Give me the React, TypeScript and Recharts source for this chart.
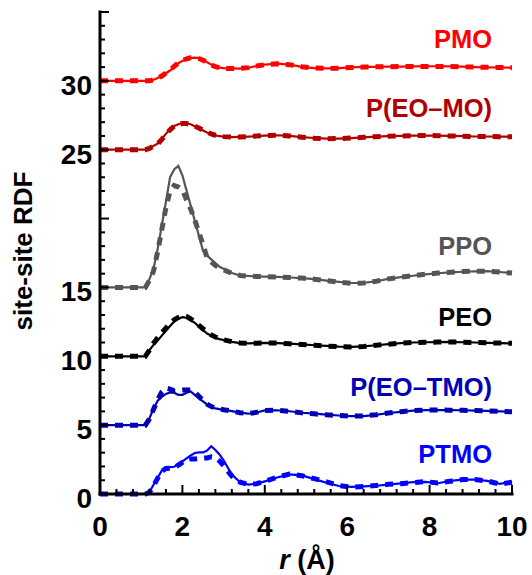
import { LineChart, Line, XAxis, YAxis } from 'recharts'

const FONT = '"Liberation Sans", Arial, Helvetica, sans-serif'

// r grid in Å, shared by all curves
const R = [
  0, 0.5, 1.0, 1.1,
  1.2, 1.3, 1.4, 1.5, 1.6, 1.7, 1.8, 1.9, 2.0, 2.1, 2.2, 2.3, 2.4, 2.5, 2.6, 2.7, 2.8, 2.9, 3.0,
  3.2, 3.4, 3.6, 3.8, 4.0, 4.3, 4.6, 4.9, 5.2, 5.5, 5.8, 6.1, 6.4, 6.7, 7.0, 7.3, 7.6, 7.9, 8.2, 8.5, 8.8, 9.1, 9.4, 9.7, 10.0,
]

// g(r) values, solid = atomistic, dashed = coarse-grained
const PMO_AA = [
  0, 0, 0, 0,
  0.0, 0.08, 0.2, 0.35, 0.55, 0.75, 1.0, 1.28, 1.45, 1.58, 1.66, 1.69, 1.65, 1.52, 1.35, 1.18, 1.04, 0.96, 0.92,
  0.9, 0.89, 0.95, 1.08, 1.18, 1.25, 1.18, 1.02, 0.92, 0.9, 0.93, 0.98, 1.01, 1.02, 1.03, 1.04, 1.05, 1.06, 1.06, 1.05, 1.03, 1.0, 0.98, 0.97, 0.96,
]
const PMO_CG = [
  0, 0, 0, 0,
  0.0, 0.07, 0.18, 0.35, 0.57, 0.8, 1.05, 1.3, 1.47, 1.6, 1.67, 1.68, 1.62, 1.5, 1.33, 1.16, 1.03, 0.95, 0.91,
  0.89, 0.9, 0.96, 1.08, 1.17, 1.24, 1.17, 1.03, 0.93, 0.9, 0.92, 0.97, 1.0, 1.02, 1.03, 1.04, 1.05, 1.05, 1.05, 1.04, 1.02, 1.0, 0.98, 0.97, 0.96,
]

const PEOMO_AA = [
  0, 0, 0, 0,
  0.12, 0.28, 0.45, 0.8, 1.15, 1.5, 1.72, 1.85, 1.92, 1.92, 1.85, 1.7, 1.55, 1.4, 1.25, 1.12, 1.04, 0.98, 0.95,
  0.92, 0.93, 0.95, 0.98, 1.02, 1.05, 1.0, 0.92, 0.85, 0.8, 0.8, 0.84, 0.9, 0.95, 0.98, 1.0, 1.02, 1.03, 1.02, 1.0, 0.98, 0.96, 0.96, 0.95, 0.95,
]
const PEOMO_CG = [
  0, 0, 0, 0,
  0.1, 0.25, 0.42, 0.75, 1.1, 1.45, 1.7, 1.84, 1.9, 1.9, 1.84, 1.72, 1.58, 1.42, 1.27, 1.14, 1.05, 0.99, 0.95,
  0.92, 0.92, 0.95, 0.99, 1.03, 1.05, 1.0, 0.91, 0.84, 0.8, 0.81, 0.85, 0.9, 0.95, 0.98, 1.0, 1.02, 1.03, 1.02, 1.0, 0.98, 0.96, 0.96, 0.95, 0.95,
]

const PPO_AA = [
  0, 0, 0, 0,
  0.6, 1.37, 2.8, 4.5, 6.2, 8.0, 8.57, 8.83, 8.14, 7.05, 5.95, 4.86, 3.77, 2.67, 2.31, 2.04, 1.77, 1.5, 1.35,
  1.05, 0.87, 0.83, 0.8, 0.79, 0.76, 0.72, 0.68, 0.6, 0.5, 0.4, 0.32, 0.33, 0.45, 0.62, 0.75, 0.85, 0.95, 1.03, 1.1, 1.14, 1.17, 1.18, 1.12, 1.04,
]
const PPO_CG = [
  0, 0, 0, 0,
  0.5, 1.2, 2.6, 4.2, 5.8, 7.0, 7.4, 7.3, 7.1, 6.35, 5.7, 4.9, 4.0, 3.1, 2.15, 1.85, 1.6, 1.42, 1.28,
  1.03, 0.87, 0.82, 0.8, 0.78, 0.76, 0.72, 0.68, 0.6, 0.5, 0.38, 0.3, 0.32, 0.45, 0.62, 0.75, 0.86, 0.96, 1.04, 1.1, 1.15, 1.18, 1.18, 1.12, 1.04,
]

const PEO_AA = [
  0, 0, 0, 0,
  0.45, 0.83, 1.15, 1.5, 1.85, 2.2, 2.52, 2.72, 2.84, 2.8, 2.62, 2.43, 2.15, 1.9, 1.65, 1.5, 1.35, 1.25, 1.18,
  1.05, 0.96, 0.94, 0.95, 0.97, 0.96, 0.92, 0.86, 0.8, 0.75, 0.7, 0.68, 0.72, 0.8, 0.88, 0.95, 1.0, 1.02, 1.03, 1.04, 1.02, 1.0, 0.98, 0.96, 0.94,
]
const PEO_CG = [
  0, 0, 0, 0,
  0.45, 0.95, 1.35, 1.7, 2.05, 2.4, 2.65, 2.82, 2.93, 2.9, 2.72, 2.5, 2.25, 2.0, 1.75, 1.55, 1.4, 1.3, 1.2,
  1.06, 0.97, 0.94, 0.95, 0.97, 0.96, 0.91, 0.85, 0.8, 0.74, 0.7, 0.67, 0.71, 0.8, 0.88, 0.95, 1.0, 1.02, 1.03, 1.04, 1.02, 1.0, 0.98, 0.96, 0.94,
]

const PEOTMO_AA = [
  0, 0, 0, 0,
  0.5, 1.2, 1.78, 2.05, 2.27, 2.38, 2.35, 2.2, 2.2, 2.35, 2.45, 2.2, 1.95, 1.72, 1.5, 1.32, 1.22, 1.16, 1.12,
  1.02, 0.9, 0.83, 0.92, 1.07, 1.08, 1.01, 0.9, 0.83, 0.76, 0.7, 0.66, 0.66, 0.75, 0.88, 0.97, 1.05, 1.09, 1.09, 1.09, 1.08, 1.06, 1.03, 1.0, 0.97,
]
const PEOTMO_CG = [
  0, 0, 0, 0,
  0.45, 1.15, 1.85, 2.4, 2.7, 2.62, 2.5, 2.52, 2.55, 2.55, 2.55, 2.4, 2.1, 1.8, 1.52, 1.35, 1.25, 1.18, 1.12,
  1.02, 0.9, 0.84, 0.93, 1.07, 1.08, 1.0, 0.89, 0.82, 0.75, 0.7, 0.65, 0.67, 0.76, 0.88, 0.98, 1.05, 1.09, 1.1, 1.09, 1.08, 1.06, 1.03, 1.0, 0.97,
]

const PTMO_AA = [
  0, 0, 0, 0,
  0.15, 0.67, 1.18, 1.7, 1.93, 1.95, 1.98, 2.15, 2.37, 2.58, 2.8, 2.98, 3.02, 3.02, 3.15, 3.47, 3.2, 2.87, 2.45,
  1.42, 0.85, 0.68, 0.75, 0.92, 1.2, 1.42, 1.35, 1.08, 0.82, 0.58, 0.52, 0.55, 0.6, 0.68, 0.77, 0.86, 0.88, 0.78, 0.95, 1.05, 1.05, 0.95, 0.74, 0.88,
]
const PTMO_CG = [
  0, 0, 0, 0,
  0.12, 0.6, 1.15, 1.65, 1.85, 1.88, 1.9, 2.1, 2.3, 2.5, 2.55, 2.55, 2.58, 2.6, 2.62, 2.7, 2.65, 2.4, 2.05,
  1.3, 0.85, 0.7, 0.75, 0.92, 1.22, 1.45, 1.32, 1.12, 0.88, 0.62, 0.5, 0.55, 0.62, 0.7, 0.75, 0.82, 0.9, 0.8, 0.92, 1.05, 1.05, 0.95, 0.72, 0.85,
]

const NAMES = ['PMO', 'P(EO–MO)', 'PPO', 'PEO', 'P(EO–TMO)', 'PTMO']
const KEYS = ['pmo', 'peomo', 'ppo', 'peo', 'peotmo', 'ptmo']
const OFFSETS = [30, 25, 15, 10, 5, 0]
const COLORS = ['#ff0000', '#b00000', '#555555', '#000000', '#0000b4', '#0000ff']
const SOLID = [PMO_AA, PEOMO_AA, PPO_AA, PEO_AA, PEOTMO_AA, PTMO_AA]
const DASHED = [PMO_CG, PEOMO_CG, PPO_CG, PEO_CG, PEOTMO_CG, PTMO_CG]
// baseline of each curve name, in chart pixels
const NAME_Y = [48, 117, 255, 326, 396, 463]

const X_TICKS = [0, 0.4, 0.8, 1.2, 1.6, 2, 2.4, 2.8, 3.2, 3.6, 4, 4.4, 4.8, 5.2, 5.6, 6, 6.4, 6.8, 7.2, 7.6, 8, 8.4, 8.8, 9.2, 9.6, 10]
const X_LABELS = [0, 2, 4, 6, 8, 10]
const Y_TICKS = [
  0, 1, 2, 3, 4, 5, 6, 7, 8, 9, 10, 11, 12, 13, 14, 15, 16, 17,
  18, 19, 20, 21, 22, 23, 24, 25, 26, 27, 28, 29, 30, 31, 32, 33, 34, 35,
]
const Y_LABELS = [0, 5, 10, 15, 25, 30]

const data = R.map((r, i) => {
  const row: Record<string, number> = { r }
  KEYS.forEach((k, s) => {
    row[k + 'Aa'] = SOLID[s][i] + OFFSETS[s]
    row[k + 'Cg'] = DASHED[s][i] + OFFSETS[s]
  })
  return row
})

const isMajorX = (v: number) => X_LABELS.some((m) => Math.abs(m - v) < 1e-6)
const isMajorY = (v: number) => v % 5 === 0

const labelStyle = { fontFamily: FONT, fontWeight: 700, fontSize: 28, fill: '#000' }

function BottomTick({ x, y, payload }: any) {
  const v = payload.value
  const major = isMajorX(v)
  return (
    <g>
      <line x1={x} x2={x} y1={y} y2={y - (major ? 9 : 5)} stroke="#000" strokeWidth={2} />
      {major && (
        <text x={x} y={y + 42} textAnchor="middle" style={labelStyle}>
          {v}
        </text>
      )}
    </g>
  )
}

function TopTick({ x, y, payload }: any) {
  const major = isMajorX(payload.value)
  return <line x1={x} x2={x} y1={y} y2={y + (major ? 9 : 5)} stroke="#000" strokeWidth={2} />
}

function LeftTick({ x, y, payload }: any) {
  const v = payload.value
  const major = isMajorY(v)
  return (
    <g>
      <line x1={x} x2={x + (major ? 9 : 5)} y1={y} y2={y} stroke="#000" strokeWidth={2} />
      {Y_LABELS.includes(v) && (
        <text x={x - 8} y={y + 14} textAnchor="end" style={labelStyle}>
          {v}
        </text>
      )}
    </g>
  )
}

function RightTick({ x, y, payload }: any) {
  const major = isMajorY(payload.value)
  return <line x1={x} x2={x - (major ? 9 : 5)} y1={y} y2={y} stroke="#000" strokeWidth={2} />
}

const frame = { stroke: '#000', strokeWidth: 3, strokeLinecap: 'square' as const }

export default function App() {
  return (
    <div style={{ position: 'absolute', left: 0, top: 0, width: 532, height: 575, background: '#fff' }}>
      <LineChart width={532} height={575} data={data} margin={{ top: 12, right: 20, bottom: 0, left: 0 }}>
        <XAxis
          dataKey="r"
          type="number"
          domain={[0, 10]}
          ticks={X_TICKS}
          interval={0}
          height={81}
          tickSize={0}
          tickMargin={0}
          tickLine={false}
          axisLine={frame}
          tick={<BottomTick />}
        />
        <XAxis
          xAxisId="top"
          orientation="top"
          dataKey="r"
          type="number"
          domain={[0, 10]}
          ticks={X_TICKS}
          interval={0}
          height={0}
          tickSize={0}
          tickMargin={0}
          tickLine={false}
          axisLine={frame}
          tick={<TopTick />}
        />
        <YAxis
          type="number"
          domain={[0, 35]}
          ticks={Y_TICKS}
          interval={0}
          width={100}
          tickSize={0}
          tickMargin={0}
          tickLine={false}
          axisLine={frame}
          tick={<LeftTick />}
        />
        <YAxis
          yAxisId="right"
          orientation="right"
          type="number"
          domain={[0, 35]}
          ticks={Y_TICKS}
          interval={0}
          width={0}
          tickSize={0}
          tickMargin={0}
          tickLine={false}
          axisLine={frame}
          tick={<RightTick />}
        />
        {KEYS.map((k, s) => (
          <Line
            key={k + 'Aa'}
            type="linear"
            dataKey={k + 'Aa'}
            stroke={COLORS[s]}
            strokeWidth={2.2}
            dot={false}
            activeDot={false}
            isAnimationActive={false}
          />
        ))}
        {KEYS.map((k, s) => (
          <Line
            key={k + 'Cg'}
            type="linear"
            dataKey={k + 'Cg'}
            stroke={COLORS[s]}
            strokeWidth={5}
            strokeDasharray="8 7"
            dot={false}
            activeDot={false}
            isAnimationActive={false}
          />
        ))}
      </LineChart>
      <svg
        width={532}
        height={575}
        style={{ position: 'absolute', left: 0, top: 0, pointerEvents: 'none' }}
      >
        {NAMES.map((n, s) => (
          <text
            key={n}
            x={492}
            y={NAME_Y[s]}
            textAnchor="end"
            style={{ fontFamily: FONT, fontWeight: 700, fontSize: 25.5, fill: COLORS[s] }}
          >
            {n}
          </text>
        ))}
        <text
          transform="translate(32 251) rotate(-90)"
          textAnchor="middle"
          style={{ fontFamily: FONT, fontWeight: 700, fontSize: 26, fill: '#000' }}
        >
          site-site RDF
        </text>
        <text
          x={307}
          y={569}
          textAnchor="middle"
          style={{ fontFamily: FONT, fontWeight: 700, fontSize: 27, fill: '#000' }}
        >
          <tspan fontStyle="italic">r</tspan> (Å)
        </text>
      </svg>
    </div>
  )
}
